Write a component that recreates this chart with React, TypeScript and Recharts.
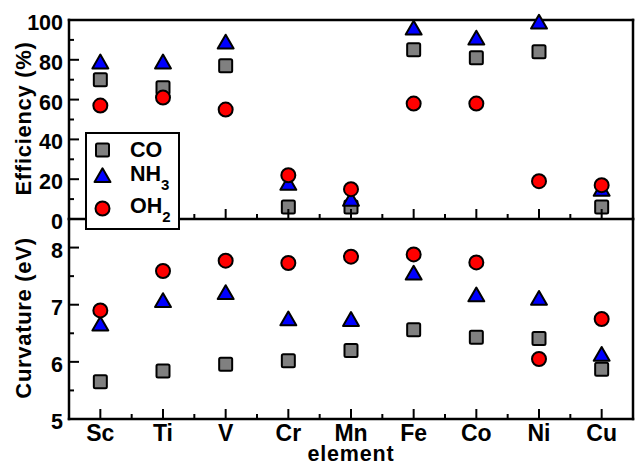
import { ScatterChart, Scatter, XAxis, YAxis } from 'recharts'

const elements = ['Sc', 'Ti', 'V', 'Cr', 'Mn', 'Fe', 'Co', 'Ni', 'Cu']

// top panel, efficiency in %
const effCO = [70, 66, 77, 6, 6, 85, 81, 84, 6]
const effNH3 = [78, 78, 88, 17, 9, 95, 90, 98, 14]
const effOH2 = [57, 61, 55, 22, 15, 58, 58, 19, 17]

// bottom panel, curvature in eV
const curvCO = [5.65, 5.84, 5.96, 6.02, 6.2, 6.56, 6.43, 6.41, 5.87]
const curvNH3 = [6.63, 7.04, 7.18, 6.72, 6.71, 7.52, 7.14, 7.08, 6.1]
const curvOH2 = [6.9, 7.59, 7.77, 7.73, 7.84, 7.88, 7.74, 6.05, 6.75]

const xTicks = [1, 1.5, 2, 2.5, 3, 3.5, 4, 4.5, 5, 5.5, 6, 6.5, 7, 7.5, 8, 8.5, 9]
const effTicks = [0, 10, 20, 30, 40, 50, 60, 70, 80, 90, 100]
const curvTicks = [5, 5.5, 6, 6.5, 7, 7.5, 8]

const FONT = "'Liberation Sans', Arial, Helvetica, sans-serif"

const series = [
  { key: 'CO', sub: '', shape: 'square', fill: '#808080' },
  { key: 'NH', sub: '3', shape: 'triangle', fill: '#0000ff' },
  { key: 'OH', sub: '2', shape: 'circle', fill: '#ff0000' },
]

const toPoints = (vals: number[]) => vals.map((v, i) => ({ x: i + 1, y: v, el: elements[i] }))

function Marker({ cx, cy, shape, fill }: any) {
  if (cx == null || cy == null) return null
  if (shape === 'square') {
    return (
      <rect x={cx - 6.5} y={cy - 6.5} width={13} height={13} rx={1.5}
        fill={fill} stroke="#000" strokeWidth={2} />
    )
  }
  if (shape === 'triangle') {
    const r = 4.6
    const s = Math.sqrt(3) * r
    return (
      <path d={`M${cx},${cy - 2 * r}L${cx + s},${cy + r}L${cx - s},${cy + r}Z`}
        fill={fill} stroke="#000" strokeWidth={2} strokeLinejoin="round" />
    )
  }
  return <circle cx={cx} cy={cy} r={7} fill={fill} stroke="#000" strokeWidth={2} />
}

function XTick({ x, y, payload, side, showLabel }: any) {
  const v = payload.value
  const major = Number.isInteger(v)
  const len = major ? 10 : 5
  const dir = side === 'top' ? 1 : -1
  return (
    <g>
      <line x1={x} x2={x} y1={y} y2={y + dir * len} stroke="#000" strokeWidth={2} />
      {showLabel && major && (
        <text x={x} y={y + 22} textAnchor="middle" fontFamily={FONT} fontWeight="bold"
          fontSize={23} fill="#000">
          {elements[v - 1]}
        </text>
      )}
    </g>
  )
}

function YTick({ x, y, payload, side, labelEvery }: any) {
  const v = payload.value
  const major = Math.abs(v / labelEvery - Math.round(v / labelEvery)) < 1e-6
  const len = major ? 10 : 5
  const dir = side === 'left' ? 1 : -1
  return (
    <g>
      <line x1={x} x2={x + dir * len} y1={y} y2={y} stroke="#000" strokeWidth={2} />
      {side === 'left' && major && (
        <text x={x - 6} y={y + 10} textAnchor="end" fontFamily={FONT} fontWeight="bold"
          fontSize={21.5} fill="#000">
          {v}
        </text>
      )}
    </g>
  )
}

const axisLine = { stroke: '#000', strokeWidth: 2.5, strokeLinecap: 'square' as const }

function yTitle(text: string) {
  return (props: any) => {
    const vb = props.viewBox || { x: 9, y: 0, width: 60, height: 200 }
    const cx = vb.x + 22
    const cy = vb.y + vb.height / 2 - 1
    return (
      <text x={cx} y={cy} transform={`rotate(-90 ${cx} ${cy})`} textAnchor="middle"
        fontFamily={FONT} fontWeight="bold" fontSize={22} letterSpacing={0.7} fill="#000">
        {text}
      </text>
    )
  }
}

function Legend() {
  const rows = [
    { cy: 150, base: 156.5 },
    { cy: 177.5, base: 180.5 },
    { cy: 208.5, base: 212.5 },
  ]
  return (
    <svg width={636} height={465} style={{ position: 'absolute', left: 0, top: 0, pointerEvents: 'none' }}>
      <rect x={86} y={133} width={93} height={96} fill="#fff" stroke="#000" strokeWidth={2} />
      {series.map((s, i) => (
        <g key={s.key}>
          <Marker cx={102.5} cy={rows[i].cy} shape={s.shape} fill={s.fill} />
          <text x={130} y={rows[i].base} fontFamily={FONT} fontWeight="bold" fontSize={21.5} fill="#000">
            {s.key}
            {s.sub && (
              <tspan fontSize={15} dy={9}>{s.sub}</tspan>
            )}
          </text>
        </g>
      ))}
    </svg>
  )
}

export default function App() {
  const effData = [effCO, effNH3, effOH2]
  const curvData = [curvCO, curvNH3, curvOH2]
  return (
    <div style={{ position: 'absolute', left: 0, top: 0, width: 636, height: 465, background: '#fff' }}>
      <div style={{ position: 'absolute', left: 0, top: 0 }}>
        <ScatterChart width={636} height={240} margin={{ top: 10, right: 2, bottom: 11, left: 9 }}>
          <XAxis xAxisId="b" dataKey="x" type="number" domain={[0.5, 9.5]} ticks={xTicks}
            interval={0} height={10} tickSize={0} tickMargin={0} axisLine={axisLine}
            tickLine={false} tick={(p: any) => <XTick {...p} side="bottom" />} />
          <XAxis xAxisId="t" orientation="top" dataKey="x" type="number" domain={[0.5, 9.5]}
            ticks={xTicks} interval={0} height={10} tickSize={0} tickMargin={0}
            axisLine={axisLine} tickLine={false} tick={(p: any) => <XTick {...p} side="top" />} />
          <YAxis yAxisId="l" dataKey="y" type="number" domain={[0, 100]} ticks={effTicks}
            interval={0} width={60} tickSize={0} tickMargin={0} axisLine={axisLine}
            tickLine={false} tick={(p: any) => <YTick {...p} side="left" labelEvery={20} />}
            label={yTitle('Efficiency (%)')} />
          <YAxis yAxisId="r" orientation="right" dataKey="y" type="number" domain={[0, 100]}
            ticks={effTicks} interval={0} width={1} tickSize={0} tickMargin={0}
            axisLine={axisLine} tickLine={false}
            tick={(p: any) => <YTick {...p} side="right" labelEvery={20} />} />
          {series.map((s, i) => (
            <Scatter key={s.key} name={s.key + s.sub} data={toPoints(effData[i])} xAxisId="b"
              yAxisId="l" isAnimationActive={false}
              shape={(p: any) => <Marker cx={p.cx} cy={p.cy} shape={s.shape} fill={s.fill} />} />
          ))}
        </ScatterChart>
      </div>
      <div style={{ position: 'absolute', left: 0, top: 200 }}>
        <ScatterChart width={636} height={265} margin={{ top: 19, right: 2, bottom: 36, left: 9 }}>
          <XAxis xAxisId="b" dataKey="x" type="number" domain={[0.5, 9.5]} ticks={xTicks}
            interval={0} height={10} tickSize={0} tickMargin={0} axisLine={axisLine}
            tickLine={false} tick={(p: any) => <XTick {...p} side="bottom" showLabel />}
            label={(props: any) => {
              const vb = props.viewBox || { x: 69, y: 219, width: 564, height: 10 }
              return (
                <text x={vb.x + vb.width / 2} y={vb.y + 42} textAnchor="middle" fontFamily={FONT}
                  fontWeight="bold" fontSize={21.5} letterSpacing={0.8} fill="#000">
                  element
                </text>
              )
            }} />
          <YAxis yAxisId="l" dataKey="y" type="number" domain={[5, 8.5]} ticks={curvTicks}
            interval={0} width={60} tickSize={0} tickMargin={0} axisLine={axisLine}
            tickLine={false} tick={(p: any) => <YTick {...p} side="left" labelEvery={1} />}
            label={yTitle('Curvature (eV)')} />
          <YAxis yAxisId="r" orientation="right" dataKey="y" type="number" domain={[5, 8.5]}
            ticks={curvTicks} interval={0} width={1} tickSize={0} tickMargin={0}
            axisLine={axisLine} tickLine={false}
            tick={(p: any) => <YTick {...p} side="right" labelEvery={1} />} />
          {series.map((s, i) => (
            <Scatter key={s.key} name={s.key + s.sub} data={toPoints(curvData[i])} xAxisId="b"
              yAxisId="l" isAnimationActive={false}
              shape={(p: any) => <Marker cx={p.cx} cy={p.cy} shape={s.shape} fill={s.fill} />} />
          ))}
        </ScatterChart>
      </div>
      <Legend />
    </div>
  )
}
